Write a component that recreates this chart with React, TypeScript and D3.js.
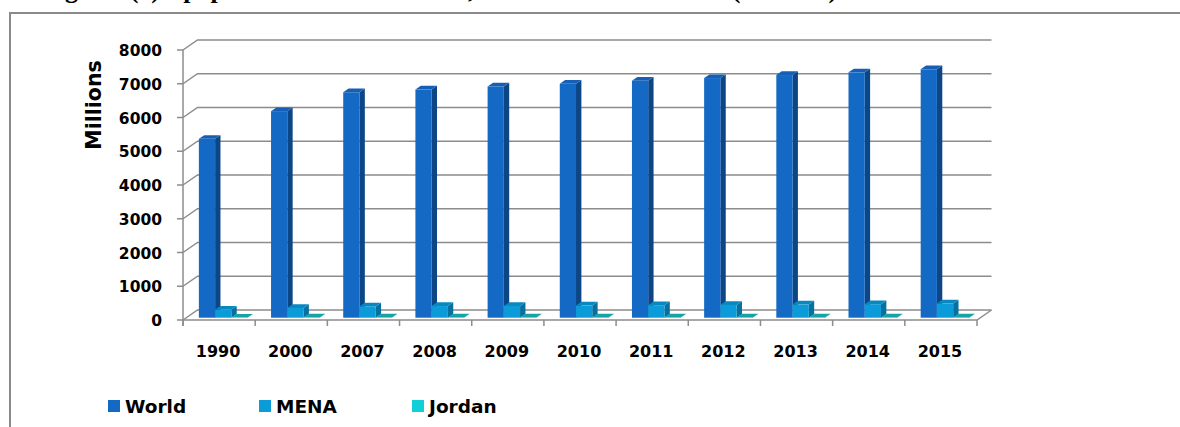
import React from "react";
import * as d3 from "d3";

const categories = ["1990", "2000", "2007", "2008", "2009", "2010", "2011", "2012", "2013", "2014", "2015"];
const worldValues = [5300, 6120, 6680, 6760, 6850, 6930, 7020, 7100, 7190, 7270, 7360];
const menaValues = [240, 290, 335, 345, 350, 360, 370, 380, 390, 400, 420];
const jordanValues = [3.2, 4.8, 5.7, 5.8, 6.0, 6.1, 6.2, 6.3, 6.5, 6.6, 9.5];
const seriesNames = ["World", "MENA", "Jordan"];
const yTicks = [0, 1000, 2000, 3000, 4000, 5000, 6000, 7000, 8000];
const titleText = "Figure (1): population of the world, MENA and Jordan (millions)";

const seriesData = [worldValues, menaValues, jordanValues];
const palette = [
  { front: "#1469C4", side: "#0C4686", top: "#1560B6", legend: "#1469C4" },
  { front: "#0A9BD8", side: "#06709F", top: "#0988BF", legend: "#0A9BD8" },
  { front: "#10C8D0", side: "#0B8F96", top: "#17A2A8", legend: "#10CFD8" },
];

const W = 1180;
const H = 427;
const FRONT_LEFT = 183;
const FRONT_RIGHT = 977;
const DX = 14.5;
const DY = 10;
const BAR_F0 = 0.23;
const BAR_F1 = 0.6;
const axisFont = "'DejaVu Sans', sans-serif";

export default function App() {
  const x = d3.scaleBand<string>().domain(categories).range([FRONT_LEFT, FRONT_RIGHT]).paddingInner(0).paddingOuter(0);
  const y = d3.scaleLinear().domain([0, 8000]).range([320, 50]);
  const bw = x.bandwidth();
  const groupW = bw * 0.675;
  const sx = d3.scaleBand<string>().domain(seriesNames).range([0, groupW]);
  const groupOffset = (bw - groupW) / 2 + 0.8;

  const gridPaths = yTicks.map((t) => {
    const yy = y(t);
    return `M${FRONT_LEFT},${yy}L${FRONT_LEFT + DX},${yy - DY}L${FRONT_RIGHT + DX},${yy - DY}`;
  });

  const bars: React.ReactNode[] = [];
  categories.forEach((c, ci) => {
    seriesNames.forEach((s, si) => {
      const v = seriesData[si][ci];
      const col = palette[si];
      const x0 = (x(c) as number) + groupOffset + (sx(s) as number) + DX * BAR_F0;
      const x1 = x0 + sx.bandwidth();
      const yb = y(0) - DY * BAR_F0;
      const yt = y(v) - DY * BAR_F0;
      const ddx = DX * (BAR_F1 - BAR_F0);
      const ddy = DY * (BAR_F1 - BAR_F0);
      bars.push(
        <g key={c + s}>
          <polygon
            points={`${x1},${yt} ${x1 + ddx},${yt - ddy} ${x1 + ddx},${yb - ddy} ${x1},${yb}`}
            fill={col.side}
          />
          <polygon
            points={`${x0},${yt} ${x1},${yt} ${x1 + ddx},${yt - ddy} ${x0 + ddx},${yt - ddy}`}
            fill={col.top}
          />
          <rect x={x0} y={yt} width={x1 - x0} height={Math.max(0, yb - yt)} fill={col.front} />
        </g>
      );
    });
  });

  const xTickPositions = categories.map((c) => x(c) as number).concat([FRONT_RIGHT]);

  const legendX = [108, 259, 412];

  return (
    <svg width={W} height={H} style={{ position: "absolute", left: 0, top: 0, display: "block", background: "#fff" }}>
      <text x={42} y={-2} fontFamily="'Liberation Serif', serif" fontWeight="bold" fontSize={26} wordSpacing={8} fill="#000">
        {titleText}
      </text>
      <path d={`M${W + 5},13H10V${H + 5}`} fill="none" stroke="#8a8a8a" strokeWidth={2} />

      {gridPaths.map((d, i) => (
        <path key={i} d={d} fill="none" stroke="#8c8c8c" strokeWidth={1.5} />
      ))}
      <path
        d={`M${FRONT_LEFT},${y(0)}L${FRONT_RIGHT},${y(0)}L${FRONT_RIGHT + DX},${y(0) - DY}`}
        fill="none"
        stroke="#8c8c8c"
        strokeWidth={1.5}
      />
      <line x1={FRONT_LEFT} x2={FRONT_LEFT} y1={y(8000)} y2={y(0) + 6} stroke="#8c8c8c" strokeWidth={1.5} />
      {yTicks.map((t) => (
        <g key={t}>
          <line x1={FRONT_LEFT - 6} x2={FRONT_LEFT} y1={y(t)} y2={y(t)} stroke="#8c8c8c" strokeWidth={1.5} />
          <text
            x={162}
            y={y(t) + 1.5}
            textAnchor="end"
            dominantBaseline="middle"
            fontFamily={axisFont}
            fontWeight="bold"
            fontSize={15.5}
            fill="#000"
          >
            {t}
          </text>
        </g>
      ))}
      {xTickPositions.map((p, i) => (
        <line key={i} x1={p} x2={p} y1={y(0)} y2={y(0) + 6} stroke="#8c8c8c" strokeWidth={1.5} />
      ))}
      {bars}
      {categories.map((c) => (
        <text
          key={c}
          x={(x(c) as number) + bw / 2 - 1}
          y={352}
          textAnchor="middle"
          dominantBaseline="middle"
          fontFamily={axisFont}
          fontWeight="bold"
          fontSize={16}
          fill="#000"
        >
          {c}
        </text>
      ))}
      <text
        transform={`translate(101,105) rotate(-90)`}
        textAnchor="middle"
        fontFamily={axisFont}
        fontWeight="bold"
        fontSize={20.5}
        fill="#000"
      >
        Millions
      </text>
      {seriesNames.map((s, i) => (
        <g key={s}>
          <rect x={legendX[i]} y={400} width={12} height={12} fill={palette[i].legend} />
          <text x={legendX[i] + 17} y={413} fontFamily={axisFont} fontWeight="bold" fontSize={18.5} fill="#000">
            {s}
          </text>
        </g>
      ))}
    </svg>
  );
}
